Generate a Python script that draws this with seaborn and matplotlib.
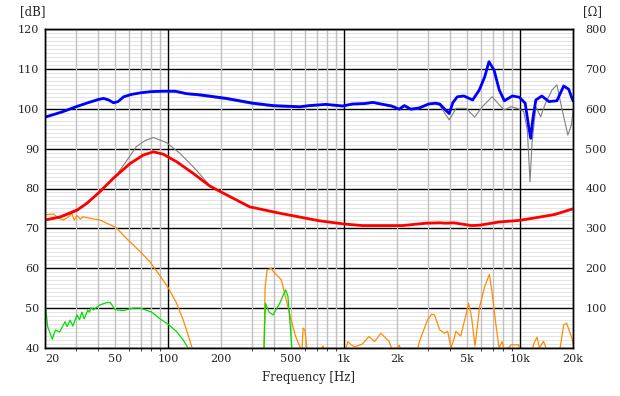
import numpy as np
import pandas as pd
import matplotlib
matplotlib.use("Agg")
import matplotlib.pyplot as plt
import seaborn as sns
from matplotlib.ticker import FixedLocator, FixedFormatter, MultipleLocator, NullFormatter

# ---------------- data ----------------
spl_f = [20, 25, 30, 35, 40, 43, 46, 49, 52, 56, 62, 70, 80, 95, 110, 127, 152, 215, 304, 395,
         560, 636, 790, 980, 1120, 1300, 1460, 1620, 1860, 2060, 2200, 2400, 2670, 3030, 3300,
         3500, 3750, 3960, 4150, 4400, 4800, 5380, 5870, 6300, 6660, 7120, 7620, 8150, 9040,
         9890, 10700, 11200, 11500, 11800, 12300, 13300, 14600, 16200, 17700, 18900, 19600, 20000]
spl_db = [97.9, 99.2, 100.5, 101.5, 102.3, 102.6, 102.2, 101.5, 101.8, 103.0, 103.6, 104.0, 104.3,
          104.4, 104.4, 103.8, 103.5, 102.6, 101.4, 100.8, 100.5, 100.8, 101.1, 100.7, 101.2,
          101.3, 101.6, 101.2, 100.7, 99.9, 100.8, 99.9, 100.2, 101.2, 101.4, 101.2, 99.8, 98.8,
          101.5, 103.0, 103.2, 102.2, 104.7, 108.0, 111.8, 109.7, 104.7, 102.0, 103.2, 102.9,
          101.4, 95.5, 92.6, 97.2, 102.2, 103.2, 101.8, 102.0, 105.7, 104.9, 103.0, 102.0]

spl2_f = [20, 25, 30, 35, 40, 43, 46, 49, 52, 56, 62, 70, 80, 95, 110, 127, 152, 215, 304, 395,
          560, 636, 790, 980, 1120, 1300, 1460, 1620, 1860, 2060, 2200, 2400, 2670, 3030, 3300,
          3500, 3960, 4330, 4950, 5520, 6100, 6950, 7620, 8150, 8850, 9700, 10500, 11000, 11400,
          11700, 12300, 13100, 13900, 15200, 16200, 17200, 18700, 19600, 20000]
spl2_db = [97.8, 99.1, 100.4, 101.4, 102.2, 102.5, 102.1, 101.4, 101.7, 102.9, 103.5, 103.9, 104.2,
           104.3, 104.2, 103.6, 103.2, 102.3, 101.1, 100.5, 100.3, 100.6, 100.9, 100.5, 101.0,
           101.1, 101.4, 101.0, 100.5, 99.7, 100.6, 99.7, 100.0, 101.0, 101.2, 100.8, 97.2, 100.1,
           100.1, 97.9, 100.5, 103.0, 101.0, 99.7, 100.5, 100.1, 99.3, 94.7, 81.7, 91.3, 100.5,
           98.0, 101.2, 104.7, 106.0, 100.5, 93.4, 96.0, 99.5]

imp_f = [20, 24.5, 30.4, 34.6, 41, 49, 61, 72.5, 82.6, 94, 112, 139, 173, 224, 291, 431, 725,
         1000, 1270, 2150, 2920, 3500, 3800, 4200, 5300, 5900, 7600, 9900, 12800, 15800, 19600, 20000]
imp_ohm = [321, 329, 346, 363, 392, 426, 463, 484, 492, 486, 467, 438, 406, 380, 354, 338, 319,
           311, 307, 307, 313, 314, 313, 314, 307, 308, 316, 320, 328, 335, 348, 349]

imp2_f = [20, 24.5, 30.4, 34.6, 41, 51, 60, 66, 74, 82.6, 98, 117, 145, 173, 224, 291, 431, 725,
          1000, 1270, 2150, 2920, 3500, 4200, 5300, 5900, 7600, 9900, 12800, 15800, 19600, 20000]
imp2_ohm = [320, 327, 343, 361, 391, 434, 478, 505, 520, 528, 515, 488, 446, 407, 380, 354, 338,
            319, 311, 307, 307, 313, 314, 314, 307, 308, 316, 320, 328, 335, 348, 349]

thd2_f = [20, 22.4, 24, 25.5, 27.2, 28.4, 29.3, 30.4, 31.8, 32.7, 34.6, 41, 47, 51, 58, 69, 79, 92,
          100, 112, 122, 130, 137, 150, 340, 351, 356, 365, 385, 400, 440, 470, 495, 530, 565, 575,
          585, 600, 615, 625, 700, 759, 800, 1000, 1050, 1100, 1150, 1270, 1390, 1490, 1620, 1800,
          1900, 2060, 2150, 2550, 2700, 2980, 3150, 3270, 3490, 3720, 3880, 4050, 4200, 4320, 4600,
          4900, 5100, 5300, 5550, 5900, 6300, 6700, 6900, 7300, 7600, 7900, 8200, 8900, 9800,
          10200, 11500, 12000, 12500, 12900, 13600, 14600, 16500, 16900, 17700, 18400, 19100,
          19800, 20000]
thd2_db = [73.4, 73.6, 72.5, 72.1, 72.9, 73.7, 72.1, 73.2, 72.3, 72.9, 72.7, 72.1, 70.9, 70.1,
           67.5, 64.3, 61.6, 57.5, 55.2, 51.2, 47.0, 43.3, 40.0, 38.0, 38.0, 40.0, 55.0, 59.5,
           60.0, 59.0, 57.1, 52.0, 47.9, 43.0, 40.0, 38.0, 45.0, 44.5, 40.0, 38.0, 38.0, 40.5, 38.0,
           38.0, 41.6, 40.8, 40.3, 41.0, 42.9, 41.6, 43.7, 41.7, 39.0, 40.7, 38.0, 38.0, 42.0,
           47.0, 48.5, 48.3, 44.6, 43.7, 44.2, 40.0, 42.0, 44.2, 43.0, 47.8, 51.2, 47.8, 40.5,
           50.4, 55.4, 58.5, 54.6, 45.8, 40.0, 41.6, 39.0, 40.8, 40.8, 38.0, 38.0, 41.2, 42.7,
           40.0, 41.7, 38.0, 38.0, 40.0, 45.8, 46.2, 44.2, 42.2, 41.0]

thd3_f = [20, 20.7, 22, 22.9, 24.2, 26, 26.7, 27.8, 28.8, 30.4, 31.4, 32.4, 33.4, 35, 35.8, 36.5,
          37.7, 41, 45, 47, 50, 55.8, 63.6, 69.4, 80.8, 90, 100, 112, 122, 130, 140, 350, 354, 358,
          375, 395, 431, 466, 480, 494, 505, 520]
thd3_db = [51.6, 45.4, 42.2, 44.5, 44.0, 46.6, 45.4, 47.0, 45.5, 48.3, 47.1, 49.0, 47.3, 49.5,
           49.0, 50.1, 49.6, 50.8, 51.4, 51.4, 49.6, 49.4, 50.0, 50.0, 49.0, 47.3, 46.0, 44.1,
           42.0, 40.0, 38.0, 38.0, 45.0, 51.2, 49.0, 48.3, 51.2, 54.6, 53.0, 46.0, 40.0, 38.0]

x_label_ticks = [20, 50, 100, 200, 500, 1000, 2000, 5000, 10000, 20000]
x_label_text = ["20", "50", "100", "200", "500", "1k", "2k", "5k", "10k", "20k"]
db_ticks = [40, 50, 60, 70, 80, 90, 100, 110, 120]
ohm_ticks = [100, 200, 300, 400, 500, 600, 700, 800]

# ---------------- styling ----------------
sns.set_style("white")
plt.rcParams['font.family'] = ['DejaVu Serif', 'DejaVu Sans']
plt.rcParams['font.size'] = 8

fig = plt.figure(figsize=(6.2, 3.96), dpi=100)
ax = fig.add_axes([45 / 620, 1 - 348 / 396, 528 / 620, 319 / 396])
ax.set_xscale('log')
ax.set_xlim(20, 20000)
ax.set_ylim(40, 120)

# grids
major_x = [100, 1000, 10000]
minor_x = [m * d for d in (10, 100, 1000, 10000) for m in range(2, 10) if 20 <= m * d <= 20000]
ax.xaxis.set_major_locator(FixedLocator(major_x))
ax.xaxis.set_minor_locator(FixedLocator(minor_x))
ax.xaxis.set_major_formatter(NullFormatter())
ax.xaxis.set_minor_formatter(NullFormatter())
ax.yaxis.set_major_locator(FixedLocator(db_ticks))
ax.yaxis.set_minor_locator(MultipleLocator(1))
ax.grid(False)
ax.set_axisbelow(True)
ax.yaxis.set_zorder(0.3)   # horizontal grid below the vertical one
ax.xaxis.grid(True, which='major', color='black', linewidth=1.0)
ax.xaxis.grid(True, which='minor', color='#c0c0c0', linewidth=1.0)
ax.yaxis.grid(True, which='major', color='black', linewidth=1.0)
ax.yaxis.grid(True, which='minor', color='#e4e4e4', linewidth=0.72)
ax.tick_params(which='both', length=0)
ax.set_yticklabels([str(v) for v in db_ticks])
ax.tick_params(axis='y', pad=4)

# tick label texts via secondary axis
sec = ax.secondary_xaxis('bottom')
sec.set_xticks(x_label_ticks)
sec.set_xticklabels(x_label_text)
sec.tick_params(length=0, pad=4)
sec.spines['bottom'].set_visible(False)
lbls = sec.get_xticklabels()
lbls[0].set_horizontalalignment('left')
sec.set_xlabel("Frequency [Hz]", fontsize=8.5, labelpad=5)

# SPL curves
sns.lineplot(x=spl2_f, y=spl2_db, ax=ax, color='#808080', linewidth=0.8, estimator=None, sort=False)
sns.lineplot(x=spl_f, y=spl_db, ax=ax, color='#0000ff', linewidth=2.0, estimator=None, sort=False)
# distortion curves
sns.lineplot(x=thd2_f, y=thd2_db, ax=ax, color='#ff8c00', linewidth=0.9, estimator=None, sort=False)
sns.lineplot(x=thd3_f, y=thd3_db, ax=ax, color='#00dd00', linewidth=0.9, estimator=None, sort=False)

# impedance on right axis
ax2 = ax.twinx()
ax2.set_ylim(0, 800)
sns.lineplot(x=imp2_f, y=imp2_ohm, ax=ax2, color='#808080', linewidth=0.8, estimator=None, sort=False)
sns.lineplot(x=imp_f, y=imp_ohm, ax=ax2, color='#ff0000', linewidth=2.0, estimator=None, sort=False)
ax2.set_xlim(20, 20000)
ax2.grid(False)
ax2.set_yticks(ohm_ticks)
ax2.set_yticklabels([str(v) for v in ohm_ticks])
ax2.tick_params(length=0, pad=9)
ax2.set_ylabel("")
ax.set_ylabel("")
ax.set_xlabel("")

for a in (ax, ax2):
    for s in a.spines.values():
        s.set_color('black')
        s.set_linewidth(1.0)

fig.text(20 / 620, 1 - 12 / 396, "[dB]", ha='left', va='center', fontsize=8.5)
fig.text(583 / 620, 1 - 12 / 396, "[Ω]", ha='left', va='center', fontsize=8.5)

fig.savefig("out.png", dpi=100, facecolor='white')
